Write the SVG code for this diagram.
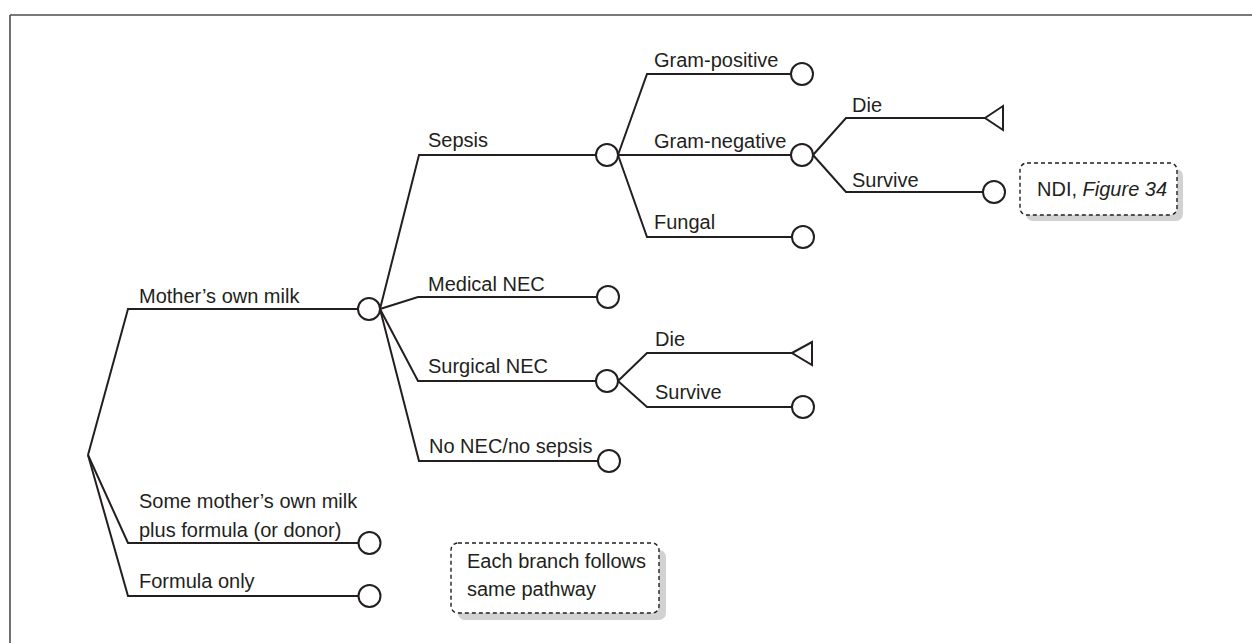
<svg xmlns="http://www.w3.org/2000/svg" width="1252" height="643" viewBox="0 0 1252 643">
  <defs>
    <style>
      .frame { stroke: #4d4d4d; stroke-width: 1.6; fill: none; }
      .edge { stroke: #231f20; stroke-width: 2; fill: none; stroke-linejoin: miter; }
      .chance { stroke: #231f20; stroke-width: 2; fill: #ffffff; }
      .term { stroke: #231f20; stroke-width: 2; fill: #ffffff; stroke-linejoin: miter; }
      .label { font-family: "Liberation Sans", Arial, sans-serif; font-size: 20px; fill: #231f20; }
      .note { stroke: #231f20; stroke-width: 1.4; stroke-dasharray: 4 3; fill: #ffffff; }
      .shadow { fill: #d2d2d2; }
    </style>
  </defs>
  <rect x="0" y="0" width="1252" height="643" fill="#ffffff"/>

  <!-- page frame -->
  <g id="frame">
    <line class="frame" x1="10" y1="15" x2="1252" y2="15"/>
    <line class="frame" x1="10" y1="15" x2="10" y2="643"/>
  </g>

  <!-- branches -->
  <g id="connectors">
    <polyline class="edge" points="88,455 128,309 358,309"/>
    <polyline class="edge" points="88,455 128,543 358,543"/>
    <polyline class="edge" points="88,455 128,596 358,596"/>

    <polyline class="edge" points="380,309 419,155 596,155"/>
    <polyline class="edge" points="380,309 418,297 597,297"/>
    <polyline class="edge" points="380,309 418,381 596,381"/>
    <polyline class="edge" points="380,309 419,461 598,461"/>

    <polyline class="edge" points="618,155 647,74 791,74"/>
    <polyline class="edge" points="618,155 791,155"/>
    <polyline class="edge" points="618,155 647,237 792,237"/>

    <polyline class="edge" points="813,155 846,118 985,118"/>
    <polyline class="edge" points="813,155 846,192 983,192"/>

    <polyline class="edge" points="618,381 647,353 792,353"/>
    <polyline class="edge" points="618,381 647,407 792,407"/>
  </g>

  <!-- feeding strategy -->
  <g id="node-mom">
    <text class="label" x="139" y="303">Mother’s own milk</text>
    <circle class="chance" cx="369" cy="309" r="11"/>
  </g>
  <g id="node-some">
    <text class="label" x="139" y="508">Some mother’s own milk</text>
    <text class="label" x="139" y="537">plus formula (or donor)</text>
    <circle class="chance" cx="369.5" cy="543" r="11"/>
  </g>
  <g id="node-formula">
    <text class="label" x="139" y="588">Formula only</text>
    <circle class="chance" cx="369.5" cy="596" r="11"/>
  </g>

  <!-- outcomes after mother's own milk -->
  <g id="node-sepsis">
    <text class="label" x="428" y="147">Sepsis</text>
    <circle class="chance" cx="607" cy="155" r="11"/>
  </g>
  <g id="node-medical">
    <text class="label" x="428" y="291">Medical NEC</text>
    <circle class="chance" cx="608" cy="297" r="11"/>
  </g>
  <g id="node-surgical">
    <text class="label" x="428" y="373">Surgical NEC</text>
    <circle class="chance" cx="607" cy="381" r="11"/>
  </g>
  <g id="node-none">
    <text class="label" x="429" y="453">No NEC/no sepsis</text>
    <circle class="chance" cx="609" cy="461" r="11"/>
  </g>

  <!-- sepsis types -->
  <g id="node-gram-pos">
    <text class="label" x="654" y="67">Gram-positive</text>
    <circle class="chance" cx="802" cy="74" r="11"/>
  </g>
  <g id="node-gram-neg">
    <text class="label" x="654" y="148">Gram-negative</text>
    <circle class="chance" cx="802" cy="155" r="11"/>
  </g>
  <g id="node-fungal">
    <text class="label" x="654" y="229">Fungal</text>
    <circle class="chance" cx="803" cy="237" r="11"/>
  </g>

  <!-- gram-negative outcomes -->
  <g id="node-gn-die">
    <text class="label" x="852" y="112">Die</text>
    <polygon class="term" points="985,118 1003,106 1003,130"/>
  </g>
  <g id="node-gn-survive">
    <text class="label" x="852" y="187">Survive</text>
    <circle class="chance" cx="994" cy="192" r="11"/>
  </g>

  <!-- surgical NEC outcomes -->
  <g id="node-sn-die">
    <text class="label" x="655" y="346">Die</text>
    <polygon class="term" points="792,353 812,342 812,365"/>
  </g>
  <g id="node-sn-survive">
    <text class="label" x="655" y="399">Survive</text>
    <circle class="chance" cx="803" cy="407" r="11"/>
  </g>

  <!-- notes -->
  <g id="note-ndi">
    <rect class="shadow" x="1026" y="169" width="157" height="52" rx="7"/>
    <rect class="note" x="1020" y="163" width="157" height="52" rx="7"/>
    <text class="label" x="1037" y="196">NDI, <tspan font-style="italic">Figure 34</tspan></text>
  </g>
  <g id="note-pathway">
    <rect class="shadow" x="458" y="550" width="208" height="70" rx="7"/>
    <rect class="note" x="451" y="543" width="208" height="70" rx="7"/>
    <text class="label" x="467" y="568">Each branch follows</text>
    <text class="label" x="467" y="596">same pathway</text>
  </g>
</svg>
